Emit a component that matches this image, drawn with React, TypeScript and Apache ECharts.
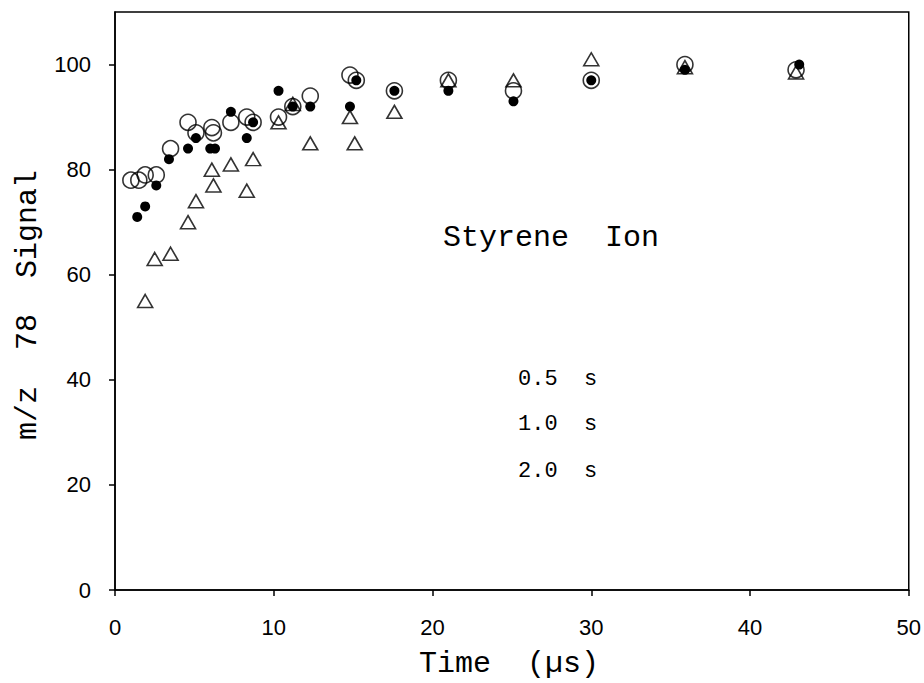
import React, { useEffect, useRef } from "react";
import * as echarts from "echarts";

// Open circles
const openX = [1.0, 1.5, 1.9, 2.6, 3.5, 4.6, 5.1, 6.1, 6.2, 7.3, 8.3, 8.7, 10.3, 11.2, 12.3, 14.8, 15.2, 17.6, 21.0, 25.1, 30.0, 35.9, 42.9];
const openY = [78, 78, 79, 79, 84, 89, 87, 88, 87, 89, 90, 89, 90, 92, 94, 98, 97, 95, 97, 95, 97, 100, 99];
// Filled circles
const filledX = [1.4, 1.9, 2.6, 3.4, 4.6, 5.1, 6.0, 6.3, 7.3, 8.3, 8.7, 10.3, 11.2, 12.3, 14.8, 15.2, 17.6, 21.0, 25.1, 30.0, 35.9, 43.1];
const filledY = [71, 73, 77, 82, 84, 86, 84, 84, 91, 86, 89, 95, 92, 92, 92, 97, 95, 95, 93, 97, 99, 100];
// Triangles
const triX = [1.9, 2.5, 3.5, 4.6, 5.1, 6.1, 6.2, 7.3, 8.3, 8.7, 10.3, 11.2, 12.3, 14.8, 15.1, 17.6, 21.0, 25.1, 30.0, 35.9, 42.9];
const triY = [55, 63, 64, 70, 74, 80, 77, 81, 76, 82, 89, 92.5, 85, 90, 85, 91, 97, 97, 101, 99.5, 98.5];

const xTicks = [0, 10, 20, 30, 40, 50];
const yTicks = [0, 20, 40, 60, 80, 100];
const legendLabels = ["0.5  s", "1.0  s", "2.0  s"];

const zip = (xs: number[], ys: number[]) => xs.map((x, i) => [x, ys[i]]);

export default function App() {
  const ref = useRef<HTMLDivElement>(null);
  useEffect(() => {
    if (!ref.current) return;
    const chart = echarts.init(ref.current, null, { renderer: "svg" });
    const mono = "'Liberation Mono', 'Courier New', monospace";
    const sans = "'Liberation Sans', Arial, sans-serif";
    const legendY = [379, 424, 471];
    chart.setOption({
      animation: false,
      backgroundColor: "#fff",
      grid: {
        left: 115,
        right: 15,
        top: 12,
        bottom: 93,
        show: true,
        borderColor: "#000",
        borderWidth: 1.5,
        backgroundColor: "transparent",
      },
      xAxis: {
        type: "value",
        min: 0,
        max: 50,
        interval: 10,
        axisLine: { show: true, lineStyle: { color: "#000", width: 1.5 } },
        axisTick: { show: true, inside: false, length: 6, lineStyle: { color: "#000", width: 1.5 }, customValues: xTicks },
        axisLabel: { color: "#000", fontSize: 22, fontFamily: sans, margin: 26, customValues: xTicks },
        splitLine: { show: false },
      },
      yAxis: {
        type: "value",
        min: 0,
        max: 110,
        interval: 20,
        axisLine: { show: true, lineStyle: { color: "#000", width: 1.5 } },
        axisTick: { show: true, inside: false, length: 6, lineStyle: { color: "#000", width: 1.5 }, customValues: yTicks },
        axisLabel: { color: "#000", fontSize: 22, fontFamily: sans, margin: 24, customValues: yTicks },
        splitLine: { show: false },
      },
      graphic: [
        {
          type: "text",
          x: 551,
          y: 238,
          style: { text: "Styrene  Ion", font: `30px ${mono}`, fill: "#000", align: "center", verticalAlign: "middle" },
        },
        {
          type: "text",
          x: 509,
          y: 664,
          style: { text: "Time  (µs)", font: `30px ${mono}`, fill: "#000", align: "center", verticalAlign: "middle" },
        },
        {
          type: "text",
          x: 28,
          y: 305,
          rotation: Math.PI / 2,
          style: { text: "m/z  78  Signal", font: `30px ${mono}`, fill: "#000", align: "center", verticalAlign: "middle" },
        },
        ...legendLabels.map((t, i) => ({
          type: "text",
          x: 518,
          y: legendY[i],
          style: { text: t, font: `22px ${mono}`, fill: "#000", align: "left", verticalAlign: "middle" },
        })),
      ],
      series: [
        {
          name: "0.5 s",
          type: "scatter",
          data: zip(openX, openY),
          symbol: "circle",
          symbolSize: 16,
          itemStyle: { color: "rgba(0,0,0,0)", borderColor: "#000", borderWidth: 1.6 },
          z: 3,
        },
        {
          name: "1.0 s",
          type: "scatter",
          data: zip(filledX, filledY),
          symbol: "circle",
          symbolSize: 10,
          itemStyle: { color: "#000", borderColor: "#000", borderWidth: 0, opacity: 1 },
          z: 4,
        },
        {
          name: "2.0 s",
          type: "scatter",
          data: zip(triX, triY),
          symbol: "triangle",
          symbolSize: [15, 13],
          itemStyle: { color: "rgba(0,0,0,0)", borderColor: "#000", borderWidth: 1.6 },
          z: 5,
        },
      ],
    });
    return () => chart.dispose();
  }, []);
  return <div ref={ref} style={{ position: "absolute", left: 0, top: 0, width: 924, height: 683 }} />;
}
